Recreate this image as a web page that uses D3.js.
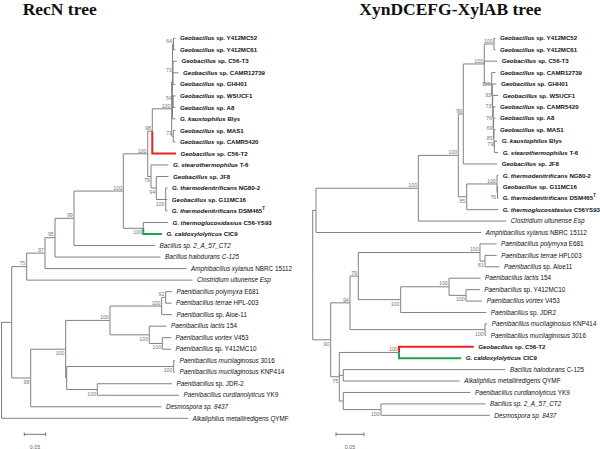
<!DOCTYPE html>
<html><head><meta charset="utf-8">
<script src="https://cdn.jsdelivr.net/npm/d3@7"></script>
<style>body{margin:0;background:#fff}svg{display:block}</style>
</head><body>
<svg id="c" width="600" height="449"></svg>
<script>
// ---------- DATA ----------
const titles = ["RecN tree", "XynDCEFG-XylAB tree"];
const scaleBarValue = 0.05;
const scaleBarLabel = "0.05";

// [node, parent, branch length, bootstrap]
const recnEdges = [
 ["R",null,0,null],
 ["N11","R",0.0238,null],
 ["N75","N11",0.0350,75],
 ["N97","N75",0.0428,97],
 ["N95","N97",0.0234,95],
 ["N99","N95",0.0444,99],
 ["N100a","N99",0.1152,100],
 ["N100b","N100a",0.0570,100],
 ["N98","N100b",0.0107,98],
 ["N100geo","N98",0.0453,100],
 ["NU","N100geo",0.0019,null],
 ["N64","NU",0.0023,64],
 ["Y412MC52","N64",0.0047,null],
 ["Y412MC61","N64",0.0047,null],
 ["N73","NU",0.0012,73],
 ["C56T3","N73",0.0093,null],
 ["CAMR12739","N73",0.0129,null],
 ["GHH01","N73",0.0058,null],
 ["N54","NU",0.0016,54],
 ["WSUCF1","N54",0.0054,null],
 ["A8","N54",0.0054,null],
 ["Blys","NU",0.0070,null],
 ["N71","N100geo",0.0037,71],
 ["MAS1","N71",0.0051,null],
 ["CAMR5420","N71",0.0051,null],
 ["C56T2","N98",0.0554,null],
 ["N79","N100b",0.0077,79],
 ["T6","N79",0.0409,null],
 ["N94","N79",0.0124,94],
 ["JF8","N94",0.0285,null],
 ["N100c","N94",0.0220,100],
 ["NG802","N100c",0.0042,null],
 ["G11MC16","N100c",0.0037,null],
 ["DSM465","N100c",0.0037,null],
 ["N100d","N100a",0.0467,100],
 ["C56YS93","N100d",0.0577,null],
 ["CIC9","N100d",0.0437,null],
 ["CT2","N99",0.1893,null],
 ["C125","N95",0.2465,null],
 ["NBRC","N97",0.3306,null],
 ["Esp","N75",0.3874,null],
 ["N98b","N11",0.0444,98],
 ["N100e","N98b",0.0818,100],
 ["N100f","N100e",0.1035,100],
 ["N100g","N100f",0.1208,100],
 ["N92","N100g",0.0093,92],
 ["E681","N92",0.0147,null],
 ["HPL003","N92",0.0136,null],
 ["Aloe11","N100g",0.0241,null],
 ["N100h","N100f",0.0918,100],
 ["L154","N100h",0.0402,null],
 ["N100i","N100h",0.0304,100],
 ["V453","N100i",0.0203,null],
 ["Y412MC10","N100i",0.0203,null],
 ["NX","N100e",0.0023,null],
 ["N100j","NX",0.2500,100],
 ["M3016","N100j",0.0030,null],
 ["KNP414","N100j",0.0030,null],
 ["N100k","NX",0.0715,100],
 ["JDR2","N100k",0.1745,null],
 ["YK9","N100k",0.1909,null],
 ["D8437","N98b",0.3056,null],
 ["QYMF","R",0.4357,null]
];

const xynEdges = [
 ["R",null,0,null],
 ["A","R",0.0059,null],
 ["N100r1","A",0.1827,100],
 ["N100r2","N100r1",0.0714,100],
 ["N99","N100r2",0.0089,99],
 ["Nmain","N99",0.0375,100],
 ["N5261","Nmain",0.0173,100],
 ["Y412MC52","N5261",0.0027,null],
 ["Y412MC61","N5261",0.0027,null],
 ["C56T3","Nmain",0.0230,null],
 ["N100c","Nmain",0.0132,100],
 ["CAMR12739","N100c",0.0068,null],
 ["N93","N100c",0.0011,93],
 ["GHH01","N93",0.0075,null],
 ["N73","N93",0.0007,73],
 ["WSUCF1","N73",0.0098,null],
 ["N76","N73",0.0009,76],
 ["CAMR5420","N76",0.0041,null],
 ["N69","N76",0.0007,69],
 ["A8","N69",0.0034,null],
 ["N85","N69",0.0007,85],
 ["MAS1","N85",0.0027,null],
 ["N79","N85",0.0007,79],
 ["Blys","N79",0.0050,null],
 ["T6","N79",0.0068,null],
 ["JF8","N99",0.0605,null],
 ["N85b","N100r2",0.0150,85],
 ["N100t","N85b",0.0541,100],
 ["NG802","N100t",0.0021,null],
 ["N76t","N100t",0.0009,76],
 ["G11MC16","N76t",0.0013,null],
 ["DSM465","N76t",0.0013,null],
 ["C56YS93","N85b",0.0563,null],
 ["Esp","N100r1",0.1570,null],
 ["NBRC","A",0.2950,null],
 ["N90","R",0.0321,90],
 ["N94","N90",0.0345,94],
 ["N79p","N94",0.0148,79],
 ["N100p1","N79p",0.2173,100],
 ["E681","N100p1",0.0295,null],
 ["N81","N100p1",0.0089,81],
 ["HPL003","N81",0.0211,null],
 ["Aloe11","N81",0.0259,null],
 ["N100p2","N79p",0.0757,100],
 ["N100p3","N100p2",0.0863,100],
 ["L154","N100p3",0.0563,null],
 ["N100p4","N100p3",0.0304,100],
 ["Y412MC10","N100p4",0.0246,null],
 ["V453","N100p4",0.0289,null],
 ["JDR2","N100p2",0.1527,null],
 ["N100m","N94",0.2411,100],
 ["KNP414","N100m",0.0039,null],
 ["M3016","N100m",0.0021,null],
 ["N75","N90",0.0154,75],
 ["N100g","N75",0.1066,100],
 ["C56T2","N100g",0.1336,null],
 ["CIC9","N100g",0.1111,null],
 ["NHA","N75",0.0071,null],
 ["C125","NHA",0.2896,null],
 ["QYMF","NHA",0.2080,null],
 ["NYK","N75",0.0071,null],
 ["YK9","NYK",0.2271,null],
 ["N100d","NYK",0.0673,100],
 ["CT2","N100d",0.1866,null],
 ["D8437","N100d",0.1943,null]
];

// leaf labels: [leaf, italic part, roman part, superscript]
const recnNames = [
 ["Y412MC52","Geobacillus"," sp. Y412MC52",""],
 ["Y412MC61","Geobacillus"," sp. Y412MC61",""],
 ["C56T3","Geobacillus"," sp. C56-T3",""],
 ["CAMR12739","Geobacillus"," sp. CAMR12739",""],
 ["GHH01","Geobacillus"," sp. GHH01",""],
 ["WSUCF1","Geobacillus"," sp. WSUCF1",""],
 ["A8","Geobacillus"," sp. A8",""],
 ["Blys","G. kaustophilus"," Blys",""],
 ["MAS1","Geobacillus"," sp. MAS1",""],
 ["CAMR5420","Geobacillus"," sp. CAMR5420",""],
 ["C56T2","Geobacillus"," sp. C56-T2",""],
 ["T6","G. stearothermophilus"," T-6",""],
 ["JF8","Geobacillus"," sp. JF8",""],
 ["NG802","G. thermodenitrificans"," NG80-2",""],
 ["G11MC16","Geobacillus"," sp. G11MC16",""],
 ["DSM465","G. thermodenitrificans"," DSM465","T"],
 ["C56YS93","G. thermoglucosidasius"," C56-YS93",""],
 ["CIC9","G. caldoxylolyticus"," CIC9",""],
 ["CT2","Bacillus sp. 2_A_57_CT2","",""],
 ["C125","Bacillus halodurans C-125","",""],
 ["NBRC","Amphibacillus xylanus"," NBRC 15112",""],
 ["Esp","Clostridium ultunense Esp","",""],
 ["E681","Paenibacillus polymyxa"," E681",""],
 ["HPL003","Paenibacillus terrae"," HPL-003",""],
 ["Aloe11","Paenibacillus"," sp. Aloe-11",""],
 ["L154","Paenibacillus lactis"," 154",""],
 ["V453","Paenibacillus vortex"," V453",""],
 ["Y412MC10","Paenibacillus"," sp. Y412MC10",""],
 ["M3016","Paenibacillus mucilaginosus"," 3016",""],
 ["KNP414","Paenibacillus mucilaginosus"," KNP414",""],
 ["JDR2","Paenibacillus"," sp. JDR-2",""],
 ["YK9","Paenibacillus curdlanolyticus"," YK9",""],
 ["D8437","Desmospora sp. 8437","",""],
 ["QYMF","Alkaliphilus metalliredigens"," QYMF",""]
];

const xynNames = [
 ["Y412MC52","Geobacillus"," sp. Y412MC52",""],
 ["Y412MC61","Geobacillus"," sp. Y412MC61",""],
 ["C56T3","Geobacillus"," sp. C56-T3",""],
 ["CAMR12739","Geobacillus"," sp. CAMR12739",""],
 ["GHH01","Geobacillus"," sp. GHH01",""],
 ["WSUCF1","Geobacillus"," sp. WSUCF1",""],
 ["CAMR5420","Geobacillus"," sp. CAMR5420",""],
 ["A8","Geobacillus"," sp. A8",""],
 ["MAS1","Geobacillus"," sp. MAS1",""],
 ["Blys","G. kaustophilus"," Blys",""],
 ["T6","G. stearothermophilus"," T-6",""],
 ["JF8","Geobacillus"," sp. JF8",""],
 ["NG802","G. thermodenitrificans"," NG80-2",""],
 ["G11MC16","Geobacillus"," sp. G11MC16",""],
 ["DSM465","G. thermodenitrificans"," DSM465","T"],
 ["C56YS93","G. thermoglucosidasius"," C56YS93",""],
 ["Esp","Clostridium ultunense Esp","",""],
 ["NBRC","Amphibacillus xylanus"," NBRC 15112",""],
 ["E681","Paenibacillus polymyxa"," E681",""],
 ["HPL003","Paenibacillus terrae"," HPL003",""],
 ["Aloe11","Paenibacillus"," sp. Aloe11",""],
 ["L154","Paenibacillus lactis"," 154",""],
 ["Y412MC10","Paenibacillus"," sp. Y412MC10",""],
 ["V453","Paenibacillus vortex"," V453",""],
 ["JDR2","Paenibacillus"," sp. JDR2",""],
 ["KNP414","Paenibacillus mucilaginosus"," KNP414",""],
 ["M3016","Paenibacillus mucilaginosus"," 3016",""],
 ["C56T2","Geobacillus"," sp. C56-T2",""],
 ["CIC9","G. caldoxylolyticus"," CIC9",""],
 ["C125","Bacillus halodurans"," C-125",""],
 ["QYMF","Alkaliphilus metalliredigens"," QYMF",""],
 ["YK9","Paenibacillus curdlanolyticus"," YK9",""],
 ["CT2","Bacillus sp. 2_A_57_CT2","",""],
 ["D8437","Desmospora sp. 8437","",""]
];

// ---------- DRAWING ----------
const svg = d3.select("#c");
const LINE = "#808080", RED = "#ec2227", GREEN = "#1aa64a";
const FONT = "'Liberation Sans', Arial, sans-serif";

function drawTree(edges, names, cfg) {
  const g = svg.append("g");
  const root = d3.stratify().id(d => d[0]).parentId(d => d[1])(edges);
  root.eachBefore(n => { n.dist = n.parent ? n.parent.dist + n.data[2] : 0; });
  const leaves = root.leaves();
  const x = d3.scaleLinear().domain([0, 1]).range([cfg.x0, cfg.x0 + cfg.ppu]);
  const y = d3.scaleLinear().domain([0, leaves.length - 1]).range([cfg.y0, cfg.y1]);
  leaves.forEach((l, i) => { l.yy = y(i); });
  root.eachAfter(n => {
    if (n.children) n.yy = (n.children[0].yy + n.children[n.children.length - 1].yy) / 2;
  });
  const nonRoot = root.descendants().filter(n => n.parent);
  const colorOf = n => n.id === "C56T2" ? RED : n.id === "CIC9" ? GREEN : LINE;
  const elbow = n => `M${x(n.parent.dist)},${n.parent.yy}V${n.yy}H${x(n.dist)}`;
  g.selectAll("path.gray").data(nonRoot.filter(n => colorOf(n) === LINE)).join("path")
    .attr("d", elbow).attr("fill", "none").attr("stroke", LINE).attr("stroke-width", 1);
  g.selectAll("path.col").data(nonRoot.filter(n => colorOf(n) !== LINE)).join("path")
    .attr("d", elbow).attr("fill", "none").attr("stroke", colorOf).attr("stroke-width", 2);

  // bootstrap values
  const internal = root.descendants().filter(n => n.children && n.data[3] != null);
  g.selectAll("text.bs").data(internal).join("text")
    .attr("x", n => x(n.dist) - 1.2)
    .attr("y", n => cfg.below.includes(n.id) ? n.yy + 6 : cfg.mid.includes(n.id) ? n.yy + 2 : n.yy - 1.3)
    .attr("text-anchor", "end").attr("font-family", FONT).attr("font-size", 5.3)
    .attr("fill", "#777").text(n => n.data[3]);

  // leaf labels
  const nameMap = new Map(names.map(d => [d[0], d]));
  const isBold = n => /^G(eobacillus|\.)/.test(nameMap.get(n.id)[1]);
  const t = g.selectAll("text.leaf").data(leaves).join("text")
    .attr("x", n => x(n.dist) + 4.5).attr("y", n => n.yy).attr("dy", "0.35em")
    .attr("font-family", FONT).attr("font-size", n => isBold(n) ? 6.1 : 6.35).attr("fill", "#111")
    .attr("font-weight", n => isBold(n) ? "bold" : "normal");
  t.append("tspan").attr("font-style", "italic").text(n => nameMap.get(n.id)[1]);
  t.append("tspan").text(n => nameMap.get(n.id)[2]);
  t.filter(n => nameMap.get(n.id)[3]).append("tspan")
    .attr("dy", -3).attr("font-size", 4.5).text(n => nameMap.get(n.id)[3]);

  // scale bar
  const sb = g.append("g");
  const sx0 = cfg.sbx, sx1 = cfg.sbx + (x(scaleBarValue) - x(0)), sy = 434.3;
  sb.append("path").attr("d", `M${sx0},${sy}H${sx1}M${sx0},${sy-1.8}V${sy+1.8}M${sx1},${sy-1.8}V${sy+1.8}`)
    .attr("stroke", "#666").attr("fill", "none").attr("stroke-width", 0.9);
  sb.append("text").attr("x", (sx0 + sx1) / 2).attr("y", 448.5).attr("text-anchor", "middle")
    .attr("font-family", FONT).attr("font-size", 5.3).attr("fill", "#666").text(scaleBarLabel);

  // title
  svg.append("text").attr("x", cfg.tx).attr("y", 15)
    .attr("font-family", "'Liberation Serif', 'Times New Roman', serif")
    .attr("font-weight", "bold").attr("font-size", 17.5).attr("fill", "#111").text(cfg.title);
}

drawTree(recnEdges, recnNames, {
  x0: 1.5, ppu: 428, y0: 38.3, y1: 418.3, sbx: 24.3, tx: 22.7, title: titles[0],
  below: ["N79","N94","N100c","N100d","N98b","N100e","N100h","N100i","N100j","N100k"],
  mid: []
});
drawTree(xynEdges, xynNames, {
  x0: 312.7, ppu: 560, y0: 38.3, y1: 415.3, sbx: 336, tx: 359.3, title: titles[1],
  below: ["N85b","N76t","N81","N100p2","N100p4","N100m","N90","N75","N100d"],
  mid: ["N100c","N93","N73","N76","N69","N85"]
});
</script>
</body></html>
